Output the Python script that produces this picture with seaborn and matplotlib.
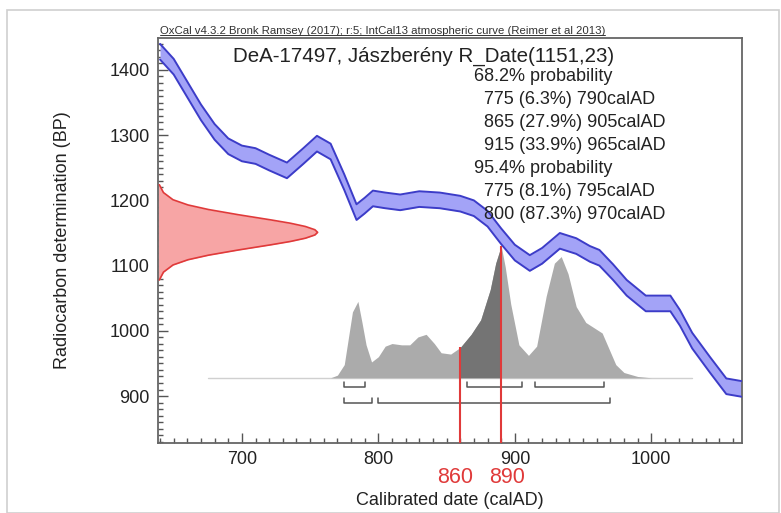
import numpy as np
import seaborn as sns
import matplotlib.pyplot as plt
from matplotlib.lines import Line2D
from matplotlib.patches import Rectangle

# calibration curve (IntCal13), centre values
curve_year = [640, 650, 660, 670, 680, 690, 700, 710, 720, 733, 745, 755, 765, 775,
              784, 790, 796, 805, 816, 830, 845, 860, 870, 880, 890, 900, 911, 920,
              933, 945, 955, 962, 972, 982, 996, 1008, 1014, 1021, 1030, 1043, 1055, 1066]
curve_bp = [1428, 1405, 1370, 1335, 1305, 1283, 1272, 1268, 1258, 1246, 1268, 1287, 1275, 1228,
            1182, 1192, 1203, 1200, 1197, 1202, 1200, 1195, 1188, 1172, 1145, 1120, 1104, 1115,
            1138, 1130, 1118, 1112, 1090, 1066, 1042, 1042, 1042, 1020, 985, 948, 915, 911]
curve_err = 12

# radiocarbon date R_Date(1151,23), width in calendar years from the left axis
date_bp = [1224, 1212, 1201, 1193, 1186, 1178, 1170, 1165, 1160, 1155, 1151,
           1147, 1142, 1137, 1132, 1124, 1116, 1109, 1101, 1090, 1078]
date_w = [1, 4, 11, 22, 37, 59, 83, 97, 108, 115, 117,
          115, 108, 97, 83, 59, 37, 22, 11, 4, 1]

# calibrated probability (relative)
cal_year = [765, 770, 775, 778, 781, 785, 788, 791, 795, 800, 805, 810, 817, 823, 829,
            835, 841, 846, 853, 860, 868, 875, 882, 886, 890, 893, 897, 903, 910, 916,
            923, 929, 934, 939, 945, 952, 958, 964, 969, 974, 980, 990, 1000]
cal_prob = [0, 0.02, 0.10, 0.30, 0.50, 0.58, 0.42, 0.25, 0.12, 0.16, 0.24, 0.26, 0.25, 0.25, 0.31,
            0.33, 0.26, 0.19, 0.18, 0.23, 0.33, 0.44, 0.67, 0.87, 1.0, 0.84, 0.56, 0.25, 0.17, 0.24,
            0.62, 0.87, 0.92, 0.79, 0.54, 0.42, 0.38, 0.34, 0.22, 0.10, 0.04, 0.01, 0]

ranges_68 = [(775, 790), (865, 905), (915, 965)]
ranges_95 = [(775, 795), (800, 970)]
marks = [860, 890]

header = "OxCal v4.3.2 Bronk Ramsey (2017); r:5; IntCal13 atmospheric curve (Reimer et al 2013)"
title = "DeA-17497, Jászberény R_Date(1151,23)"
prob_lines = ["68.2% probability", "  775 (6.3%) 790calAD", "  865 (27.9%) 905calAD",
              "  915 (33.9%) 965calAD", "95.4% probability", "  775 (8.1%) 795calAD",
              "  800 (87.3%) 970calAD"]

sns.set_theme(style="white")
plt.rcParams['font.family'] = ['Liberation Sans', 'DejaVu Sans']

fig = plt.figure(figsize=(7.81, 5.13), dpi=100)
ax = fig.add_axes([158 / 781, 70 / 513, 584 / 781, 405 / 513])
xmin, xmax = 638.5, 1066.5
ymin, ymax = 828, 1449
ax.set_xlim(xmin, xmax)
ax.set_ylim(ymin, ymax)

# calibration curve band
cy = np.array(curve_year)
cb = np.array(curve_bp)
ax.fill_between(cy, cb - curve_err, cb + curve_err, color='#a3a3f7', lw=0, zorder=2)
sns.lineplot(x=cy, y=cb + curve_err, ax=ax, color='#3c3cc8', lw=1.4, estimator=None, zorder=3)
sns.lineplot(x=cy, y=cb - curve_err, ax=ax, color='#3c3cc8', lw=1.4, estimator=None, zorder=3)

# radiocarbon date on the y axis
dw = xmin + np.array(date_w)
ax.fill_betweenx(date_bp, xmin, dw, color='#f7a5a5', lw=0, zorder=2)
ax.plot(dw, date_bp, color='#e03a3a', lw=1.2, zorder=3)

# calibrated distribution
base = 928
scale = 202
gx = np.array(cal_year)
gy = base + scale * np.array(cal_prob)
ax.plot([675, 1030], [base, base], color='#d0d0d0', lw=1, zorder=1)
ax.fill_between(gx, base, gy, color='#ababab', lw=0, zorder=2)
dark = (gx >= marks[0]) & (gx <= marks[1])
ax.fill_between(gx, base, gy, where=dark, color='#747474', lw=0, zorder=2)

# range brackets
def bracket(lo, hi, y, h=7):
    ax.plot([lo, lo, hi, hi], [y + h, y, y, y + h], color='#555555', lw=1.1, zorder=3)

for lo, hi in ranges_68:
    bracket(lo, hi, 914)
for lo, hi in ranges_95:
    bracket(lo, hi, 890)

# marker lines and their labels (nudged apart like the original)
for m, nudge in zip(marks, [-4, 4.5]):
    top = gy[cal_year.index(m)]
    ax.vlines(m, ymin, top, color='#e03a3a', lw=1.5, zorder=4)
    ax.text(m + nudge, -0.085, str(m), transform=ax.get_xaxis_transform(), color='#e03a3a',
            fontsize=15.5, ha='center', va='center')

# texts
ax.text(0.454, 0.955, title, transform=ax.transAxes, fontsize=14.8, ha='center', va='center',
        color='#222222')
for i, line in enumerate(prob_lines):
    ax.text(0.541, 0.904 - i * 0.0568, line, transform=ax.transAxes, fontsize=13,
            ha='left', va='center', color='#222222')

htxt = fig.text(160 / 781, 1 - 31 / 513, header, fontsize=8.2, ha='left', va='center',
                color='#333333')
fig.canvas.draw()
bb = htxt.get_window_extent().transformed(fig.transFigure.inverted())
fig.add_artist(Line2D([bb.x0, bb.x1], [bb.y0 + 0.002, bb.y0 + 0.002], color='#333333', lw=0.7))

ax.set_xlabel('Calibrated date (calAD)', fontsize=13, color='#222222', va='center')
ax.xaxis.set_label_coords(0.5, -0.141)
ax.set_ylabel('Radiocarbon determination (BP)', fontsize=13, color='#222222', va='center')
ax.yaxis.set_label_coords(-0.164, 0.5)

ax.set_xticks([700, 800, 900, 1000])
ax.set_xticks(np.arange(640, 1067, 10), minor=True)
ax.set_yticks([900, 1000, 1100, 1200, 1300, 1400])
ax.set_yticks(np.arange(830, 1449, 10), minor=True)
ax.tick_params(which='both', direction='in', color='#555555', width=1, labelsize=13,
               labelcolor='#222222', bottom=True, left=True, top=False, right=False)
ax.tick_params(which='major', length=7, pad=6)
ax.tick_params(which='minor', length=3.5)
for s in ax.spines.values():
    s.set_color('#666666')
    s.set_linewidth(1.3)

fig.add_artist(Rectangle((7 / 781, 0.0), 772 / 781, 1 - 10 / 513, transform=fig.transFigure,
                         fill=False, ec='#cfcfcf', lw=1.2))

fig.savefig('out.png', dpi=100)
